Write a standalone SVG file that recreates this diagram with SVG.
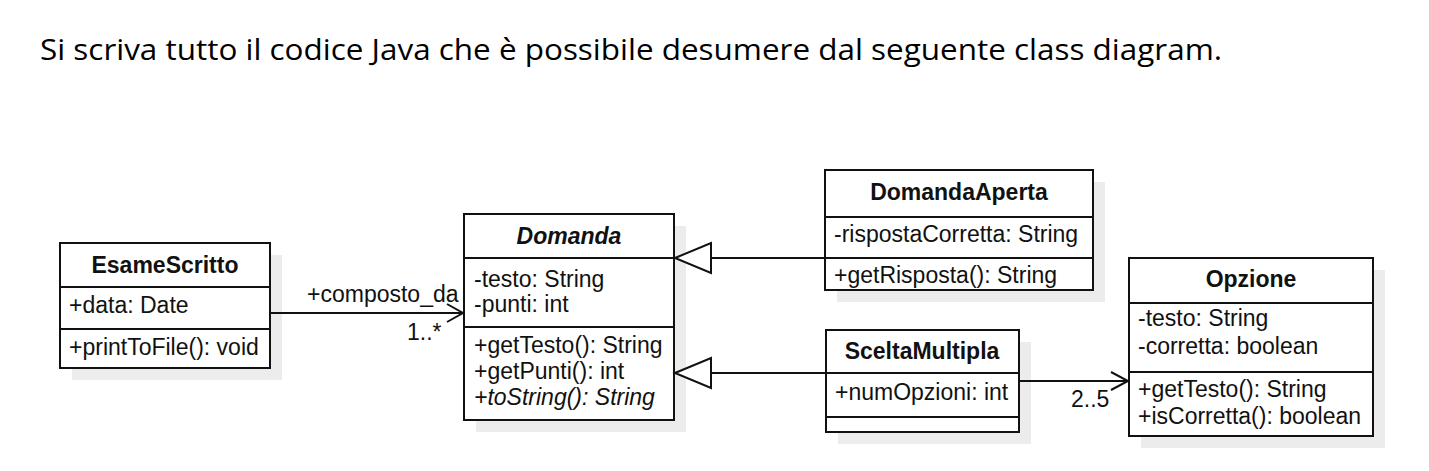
<svg xmlns="http://www.w3.org/2000/svg" width="1429" height="471" viewBox="0 0 1429 471">
<style>
.box{fill:#fff;stroke:#111;stroke-width:2}
.shadow{fill:#ececec;stroke:none}
.div{stroke:#111;stroke-width:2}
.t{font-family:"Liberation Sans",Arial,sans-serif;font-size:23px;fill:#111}
.h{font-family:"Liberation Sans",Arial,sans-serif;font-size:23px;font-weight:bold;fill:#111;text-anchor:middle}
.edge{stroke:#111;stroke-width:2;fill:none}
.tri{stroke:#111;stroke-width:2;fill:#fff}
.title{font-family:"Open Sans","Noto Sans",sans-serif;font-size:30px;fill:#000}
</style>
<rect width="1429" height="471" fill="#fff"/>
<text class="title" x="40" y="60" textLength="1182" lengthAdjust="spacingAndGlyphs">Si scriva tutto il codice Java che è possibile desumere dal seguente class diagram.</text>

<g id="EsameScritto">
<rect class="shadow" x="72" y="255" width="210" height="125"/>
<rect class="box" x="60" y="243" width="210" height="125"/>
<line class="div" x1="60" y1="287" x2="270" y2="287"/>
<line class="div" x1="60" y1="329" x2="270" y2="329"/>
<text class="h" x="165" y="273">EsameScritto</text>
<text class="t" x="69" y="313">+data: Date</text>
<text class="t" x="69" y="355">+printToFile(): void</text>
</g>

<g id="Domanda">
<rect class="shadow" x="476" y="226" width="210" height="206"/>
<rect class="box" x="464" y="214" width="210" height="206"/>
<line class="div" x1="464" y1="258" x2="674" y2="258"/>
<line class="div" x1="464" y1="327" x2="674" y2="327"/>
<text class="h" x="569" y="244" font-style="italic">Domanda</text>
<text class="t" x="474" y="287">-testo: String</text>
<text class="t" x="474" y="312">-punti: int</text>
<text class="t" x="474" y="353">+getTesto(): String</text>
<text class="t" x="474" y="379">+getPunti(): int</text>
<text class="t" x="474" y="405" font-style="italic">+toString(): String</text>
</g>

<g id="DomandaAperta">
<rect class="shadow" x="837" y="182" width="268" height="120"/>
<rect class="box" x="825" y="170" width="268" height="120"/>
<line class="div" x1="825" y1="217" x2="1093" y2="217"/>
<line class="div" x1="825" y1="258" x2="1093" y2="258"/>
<text class="h" x="959" y="200">DomandaAperta</text>
<text class="t" x="834" y="242">-rispostaCorretta: String</text>
<text class="t" x="834" y="283">+getRisposta(): String</text>
</g>

<g id="SceltaMultipla">
<rect class="shadow" x="838" y="342" width="193" height="102"/>
<rect class="box" x="826" y="330" width="193" height="102"/>
<line class="div" x1="826" y1="373" x2="1019" y2="373"/>
<line class="div" x1="826" y1="417" x2="1019" y2="417"/>
<text class="h" x="922" y="359">SceltaMultipla</text>
<text class="t" x="835" y="400">+numOpzioni: int</text>
</g>

<g id="Opzione">
<rect class="shadow" x="1141" y="270" width="244" height="178"/>
<rect class="box" x="1129" y="258" width="244" height="178"/>
<line class="div" x1="1129" y1="303" x2="1373" y2="303"/>
<line class="div" x1="1129" y1="372" x2="1373" y2="372"/>
<text class="h" x="1251" y="287">Opzione</text>
<text class="t" x="1138" y="326">-testo: String</text>
<text class="t" x="1138" y="354">-corretta: boolean</text>
<text class="t" x="1138" y="397">+getTesto(): String</text>
<text class="t" x="1138" y="424">+isCorretta(): boolean</text>
</g>

<g id="connectors">
<line class="edge" x1="270" y1="313" x2="463" y2="313"/>
<polyline class="edge" points="447,304 463,313 447,322"/>
<text class="t" x="307" y="302">+composto_da</text>
<text class="t" x="407" y="340">1..*</text>

<line class="edge" x1="711" y1="258" x2="825" y2="258"/>
<polygon class="tri" points="675,258 711,243 711,273"/>

<line class="edge" x1="711" y1="373" x2="826" y2="373"/>
<polygon class="tri" points="675,373 711,358 711,388"/>

<line class="edge" x1="1019" y1="381" x2="1128" y2="381"/>
<polyline class="edge" points="1111,372 1128,381 1111,390"/>
<text class="t" x="1071" y="407">2..5</text>
</g>
</svg>
